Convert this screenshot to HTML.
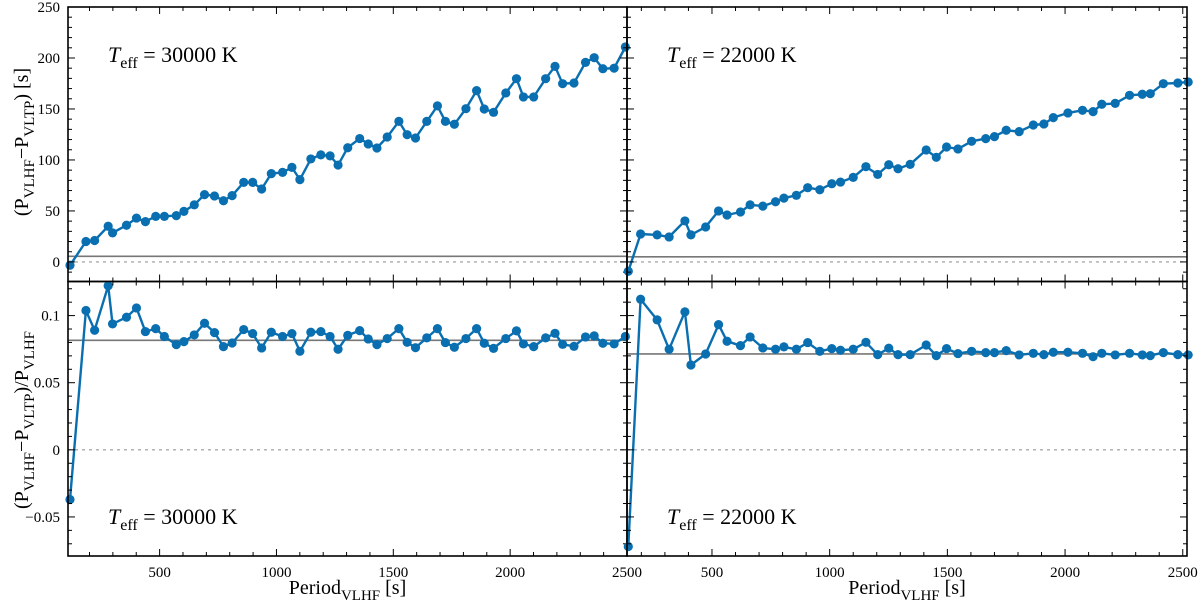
<!DOCTYPE html>
<html><head><meta charset="utf-8"><style>
body{margin:0;background:#fff}
svg{display:block}
svg text{font-family:"Liberation Serif","DejaVu Serif",serif}
</style></head><body>
<svg id="chart" width="1200" height="611" viewBox="0 0 1200 611" font-family="Liberation Serif, DejaVu Serif, serif"></svg>
<script>
// Left panels (Teff = 30000 K)
const periodsL=[116.5,184.8,221.9,279.9,298.6,358.3,401,439.3,483.3,520.4,571.5,604,648.3,692.2,734.9,773.2,810.3,859.8,898.2,936.6,978,1026.1,1066.2,1100.3,1147.2,1189.9,1229.5,1263.6,1305,1356.2,1392.8,1430,1473.9,1523.8,1559.2,1595,1643.2,1688.8,1722.9,1761.3,1810.8,1856.4,1889.2,1928.9,1981.3,2027,2056.8,2100.7,2151.9,2192,2224.5,2273.1,2322.5,2359.6,2396.7,2444.9,2493];
const diffL=[-3.3,20,21,35,28.5,36,43,39.5,44.7,44.7,45.4,49.6,56,66,64.7,60,65,78,78,71.5,86.6,87.8,92.7,80.7,101,105,104,95,112,121,115.7,111.7,122.5,137.8,124.8,121.5,137.8,153,137.8,135,150.3,168,150,146.7,165.7,179.7,161.8,161.8,179.7,191.8,174.8,175.5,195.7,200.3,189.5,190,210.8];
const ratioL=[-0.037,0.1038,0.0891,0.1222,0.0938,0.0988,0.1057,0.0881,0.0903,0.0844,0.0784,0.0806,0.0856,0.0943,0.0873,0.0769,0.0796,0.0896,0.0866,0.0759,0.0876,0.0844,0.0866,0.0734,0.0876,0.0881,0.0844,0.0749,0.0853,0.0888,0.0826,0.0784,0.0829,0.0903,0.0801,0.0761,0.0834,0.0903,0.0799,0.0764,0.0829,0.0903,0.0794,0.0756,0.0829,0.0886,0.0789,0.0769,0.0834,0.0868,0.0786,0.0771,0.0841,0.0849,0.0794,0.0789,0.0844];
// Right panels (Teff = 22000 K)
const periodsR=[144.5,196.8,267,318,385,410.6,473,528,564,621,662,716,770,805.6,858.5,906.7,958,1009,1046,1100,1154,1204,1251,1290.4,1342,1410,1453,1496.6,1545,1603,1663,1700,1750,1805,1865,1910,1950,2012,2074,2119,2156,2213,2274,2328,2362,2417.5,2479,2523];
const diffR=[-9.2,27.4,26.5,24.5,40.2,26.5,34.3,50,46,49,56,54.7,59,62.6,65.3,72.8,70.8,76.7,78.3,82.9,93.4,85.8,95.3,91.4,95.7,109.8,102.6,112.7,110.8,118.3,120.9,122.9,129.1,127.8,134.3,135.3,141.5,146.1,148.7,147.4,154.6,155.5,163.4,164.4,165,174.8,175.5,176.5];
const ratioR=[-0.072,0.1122,0.0968,0.0749,0.1028,0.0632,0.0714,0.0933,0.0809,0.0776,0.0841,0.0759,0.0749,0.0767,0.0749,0.0799,0.0734,0.0754,0.0742,0.0749,0.0801,0.0709,0.0757,0.0709,0.0709,0.0781,0.0702,0.0754,0.0717,0.0734,0.0724,0.0724,0.0739,0.0707,0.0719,0.0709,0.0727,0.0727,0.0719,0.0694,0.0719,0.0707,0.0719,0.0707,0.0702,0.0724,0.0709,0.0707];
const refTop=[5.5,5];
const refBot=[0.0816,0.0714];
const xTicks=[500,1000,1500,2000,2500];
const yTicksTop=[0,50,100,150,200,250];
const yTicksBot=[-0.05,0,0.05,0.1];
const yTickLabelsBot=["−0.05","0","0.05","0.1"];

const NS="http://www.w3.org/2000/svg";
const FONT="Liberation Serif, DejaVu Serif, serif";
const svg=document.getElementById('chart');
function el(tag,attrs,parent){const e=document.createElementNS(NS,tag);for(const k in attrs)e.setAttribute(k,attrs[k]);if(tag==='text')e.setAttribute('font-family',FONT);(parent||svg).appendChild(e);return e;}
const COLOR="#0a6fb0";
const panels=[
 {name:'top-left',x0:68,x1:627,xmin:108,xmax:2500,y0:281.5,y1:7,ymin:-19.2,ymax:250,xs:periodsL,ys:diffL,ref:refTop[0],yt:yTicksTop,ytl:yTicksTop.map(String),minor:10,showY:true,showX:false,label:'30000'},
 {name:'top-right',x0:627,x1:1187,xmin:139,xmax:2518,y0:281.5,y1:7,ymin:-19.2,ymax:250,xs:periodsR,ys:diffR,ref:refTop[1],yt:yTicksTop,ytl:[],minor:10,showY:false,showX:false,label:'22000'},
 {name:'bottom-left',x0:68,x1:627,xmin:108,xmax:2500,y0:556,y1:281.5,ymin:-0.0791,ymax:0.1254,xs:periodsL,ys:ratioL,ref:refBot[0],yt:yTicksBot,ytl:yTickLabelsBot,minor:0.01,showY:true,showX:true,label:'30000'},
 {name:'bottom-right',x0:627,x1:1187,xmin:139,xmax:2518,y0:556,y1:281.5,ymin:-0.0791,ymax:0.1254,xs:periodsR,ys:ratioR,ref:refBot[1],yt:yTicksBot,ytl:[],minor:0.01,showY:false,showX:true,label:'22000'}
];
panels.forEach(p=>{
 const sx=v=>p.x0+(v-p.xmin)/(p.xmax-p.xmin)*(p.x1-p.x0);
 const sy=v=>p.y0-(v-p.ymin)/(p.ymax-p.ymin)*(p.y0-p.y1);
 const g=el('g',{});
 
 
 const cid='clip-'+p.name;
 const cp=el('clipPath',{id:cid},g);el('rect',{x:p.x0,y:p.y1,width:p.x1-p.x0,height:p.y0-p.y1},cp);
 const z=el('line',{x1:p.x0,x2:p.x1,y1:sy(0),y2:sy(0),stroke:'#999','stroke-width':1.2,'stroke-dasharray':'3,4'},g);
 
 const r=el('line',{x1:p.x0,x2:p.x1,y1:sy(p.ref),y2:sy(p.ref),stroke:'#777','stroke-width':1.6},g);
 
 const dg=el('g',{'clip-path':'url(#'+cid+')'},g);
 const pts=p.xs.map((x,i)=>sx(x).toFixed(1)+','+sy(p.ys[i]).toFixed(1)).join(' ');
 const pl=el('polyline',{points:pts,fill:'none',stroke:COLOR,'stroke-width':2.4,'stroke-linejoin':'round'},dg);
 
 p.xs.forEach((x,i)=>{const c=el('circle',{cx:sx(x),cy:sy(p.ys[i]),r:4.6,fill:COLOR},g);
  });
 const f=el('rect',{x:p.x0,y:p.y1,width:p.x1-p.x0,height:p.y0-p.y1,fill:'none',stroke:'#000','stroke-width':1.6},g);
 
 for(let v=100;v<=p.xmax;v+=100){if(v<p.xmin)continue;const X=sx(v);const maj=v%500===0;const L=maj?7:4;
  el('line',{x1:X,x2:X,y1:p.y0,y2:p.y0-L,stroke:'#000','stroke-width':1},g);
  el('line',{x1:X,x2:X,y1:p.y1,y2:p.y1+L,stroke:'#000','stroke-width':1},g);}
 if(p.showX){xTicks.forEach(v=>{const t=el('text',{x:sx(v),y:p.y0+21,'text-anchor':'middle','font-size':15},g);t.textContent=v;
  });}
 const st=p.minor;const n0=Math.ceil(p.ymin/st),n1=Math.floor(p.ymax/st+1e-6);
 for(let k=n0;k<=n1;k++){const v=k*st;const Y=sy(v);const maj=p.yt.some(t=>Math.abs(t-v)<st/10);const L=maj?7:4;
  el('line',{x1:p.x0,x2:p.x0+L,y1:Y,y2:Y,stroke:'#000','stroke-width':1},g);
  el('line',{x1:p.x1,x2:p.x1-L,y1:Y,y2:Y,stroke:'#000','stroke-width':1},g);}
 if(p.showY){p.yt.forEach((v,i)=>{const t=el('text',{x:p.x0-8,y:sy(v)+5,'text-anchor':'end','font-size':15},g);t.textContent=p.ytl[i];
  });}
 const ay=p.name.startsWith('top')?62:524;
 const a=el('text',{x:p.x0+40,y:ay,'font-size':22},g);
 
 a.innerHTML='<tspan font-style="italic">T</tspan><tspan font-size="16" dy="6">eff</tspan><tspan dy="-6"> = '+p.label+' K</tspan>';
 if(p.showX){const xl=el('text',{x:(p.x0+p.x1)/2,y:594,'text-anchor':'middle','font-size':20},g);
  
  xl.innerHTML='Period<tspan font-size="15" dy="6">VLHF</tspan><tspan dy="-6"> [s]</tspan>';}
});
const yl1=el('text',{transform:'translate(28,142) rotate(-90)','text-anchor':'middle','font-size':20});

yl1.innerHTML='(P<tspan font-size="15" dy="6">VLHF</tspan><tspan dy="-6">−P</tspan><tspan font-size="15" dy="6">VLTP</tspan><tspan dy="-6">) [s]</tspan>';
const yl2=el('text',{transform:'translate(28,420) rotate(-90)','text-anchor':'middle','font-size':20});

yl2.innerHTML='(P<tspan font-size="15" dy="6">VLHF</tspan><tspan dy="-6">−P</tspan><tspan font-size="15" dy="6">VLTP</tspan><tspan dy="-6">)/P</tspan><tspan font-size="15" dy="6">VLHF</tspan>';
</script>
</body></html>
